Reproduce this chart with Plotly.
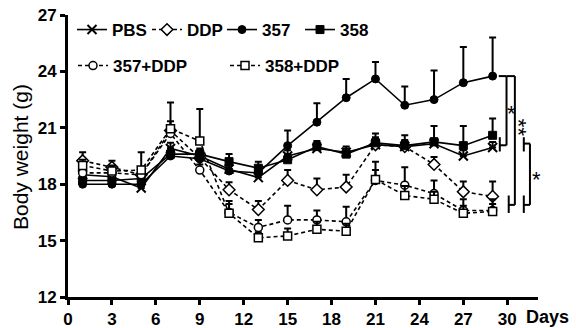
import plotly.graph_objects as go

days = [1, 3, 5, 7, 9, 11, 13, 15, 17, 19, 21, 23, 25, 27, 29]

pbs = [18.5, 18.4, 17.8, 19.9, 19.5, 18.8, 18.35, 19.5, 19.9, 19.7, 20.1, 20.0, 20.15, 19.5, 19.95]
pbs_err = [0.3, 0.3, 0.2, 0.3, 0.3, 0.3, 0.3, 0.3, 0.3, 0.3, 0.3, 0.3, 0.3, 0.3, 0.3]

ddp = [19.25, 18.9, 18.5, 20.85, 19.4, 17.7, 16.65, 18.2, 17.7, 17.85, 20.1, 20.0, 19.05, 17.6, 17.35]
ddp_err = [0.45, 0.35, 0.4, 1.5, 0.4, 0.4, 0.45, 0.55, 0.6, 0.65, 0.4, 0.35, 0.4, 0.55, 0.8]

s357 = [18.0, 18.0, 18.0, 19.5, 19.35, 18.7, 18.6, 20.05, 21.3, 22.6, 23.6, 22.2, 22.5, 23.4, 23.75]
s357_err = [0.2, 0.3, 0.3, 0.4, 0.3, 0.3, 0.3, 0.8, 1.0, 1.0, 0.9, 1.0, 1.55, 1.9, 2.05]

s358 = [18.2, 18.2, 18.3, 19.6, 19.6, 19.2, 18.85, 19.3, 20.0, 19.6, 20.2, 20.05, 20.25, 20.05, 20.6]
s358_err = [0.3, 0.4, 0.3, 0.3, 0.3, 0.4, 0.35, 0.3, 0.3, 0.3, 0.5, 0.55, 0.85, 1.05, 0.9]

s357ddp = [18.6, 18.6, 18.5, 20.7, 18.75, 16.5, 15.7, 16.1, 16.1, 16.0, 18.2, 17.95, 17.5, 16.6, 16.6]
s357ddp_err = [0.3, 0.3, 0.3, 0.4, 0.3, 0.6, 0.4, 0.75, 0.5, 0.8, 1.0, 0.95, 0.7, 0.6, 0.6]

s358ddp = [19.0, 18.7, 18.75, 20.95, 20.3, 16.45, 15.15, 15.25, 15.6, 15.5, 18.25, 17.4, 17.2, 16.45, 16.55]
s358ddp_err = [0.3, 0.3, 0.95, 0.4, 1.7, 0.5, 0.3, 0.4, 0.4, 0.4, 0.5, 0.5, 0.4, 0.4, 0.4]

x_ticks = [0, 3, 6, 9, 12, 15, 18, 21, 24, 27, 30]
y_ticks = [12, 15, 18, 21, 24, 27]

# significance brackets (day, weight)
top_357 = 23.75
mid_ctrl = 20.07
ctrl_lo, ctrl_hi = 19.74, 20.5
low_ddp = 16.9
ddp_lo, ddp_hi = 16.47, 17.4
mid_ctrl2 = 20.16

FONT = "Liberation Sans, Arial, sans-serif"
W, H = 576, 328
ML, MR, MT, MB = 68, 38, 15, 31
PW = W - ML - MR
PH = H - MT - MB


def px_x(px):
    return (px - ML) / PW


def px_y(py):
    return (H - MB - py) / PH


series = [
    ("PBS", pbs, pbs_err, dict(symbol="x-thin", size=9, color="black", line=dict(color="black", width=2)), "solid", "legend", 30),
    ("DDP", ddp, ddp_err, dict(symbol="diamond", size=9, color="white", line=dict(color="black", width=1.5)), "4px,3px", "legend", 30),
    ("357", s357, s357_err, dict(symbol="circle", size=8, color="black", line=dict(color="black", width=1)), "solid", "legend", 33),
    ("358", s358, s358_err, dict(symbol="square", size=8, color="black", line=dict(color="black", width=1)), "solid", "legend", 40),
    ("357+DDP", s357ddp, s357ddp_err, dict(symbol="circle", size=8, color="white", line=dict(color="black", width=1.5)), "4px,3px", "legend2", 107),
    ("358+DDP", s358ddp, s358ddp_err, dict(symbol="square", size=8, color="white", line=dict(color="black", width=1.5)), "4px,3px", "legend2", 100),
]

fig = go.Figure()
for name, vals, err, mk, dash, leg, lw in series:
    fig.add_trace(go.Scatter(
        x=days, y=vals, name=name, mode="lines+markers",
        line=dict(color="black", width=1.6, dash=dash),
        marker=mk,
        error_y=dict(type="data", array=err, arrayminus=[0] * len(err), symmetric=False,
                     color="black", thickness=2, width=3.5),
        legend=leg, legendwidth=lw,
        cliponaxis=False,
    ))

axis_common = dict(
    showline=True, linewidth=3, linecolor="black", mirror=False,
    ticks="outside", ticklen=5, tickwidth=3, tickcolor="black",
    showgrid=False, zeroline=False, automargin=False,
    tickfont=dict(family=FONT, size=17, color="black", weight="bold"),
)
fig.update_xaxes(range=[0, 32.1], tickvals=x_ticks, **axis_common)
fig.update_yaxes(range=[12, 27], tickvals=y_ticks, **axis_common)

legend_common = dict(
    orientation="h", xanchor="left", yanchor="middle",
    font=dict(family=FONT, size=17, color="black", weight="bold"),
    bgcolor="rgba(0,0,0,0)", itemwidth=30, tracegroupgap=0,
)
fig.update_layout(
    width=W, height=H,
    margin=dict(l=ML, r=MR, t=MT, b=MB, autoexpand=False),
    plot_bgcolor="white", paper_bgcolor="white",
    showlegend=True,
    legend=dict(x=px_x(72), y=px_y(30), **legend_common),
    legend2=dict(x=px_x(73), y=px_y(66), **legend_common),
)

# brackets
bracket_lines = [
    # bracket 1: 357 vs controls
    (29.42, top_357, 29.95, top_357),
    (29.95, top_357, 29.95, mid_ctrl),
    (29.95, mid_ctrl, 29.49, mid_ctrl),
    (29.49, ctrl_hi, 29.49, ctrl_lo),
    # bracket 2: 357 vs DDP groups
    (29.95, top_357, 30.52, top_357),
    (30.52, top_357, 30.52, low_ddp),
    (30.52, low_ddp, 30.1, low_ddp),
    (30.1, ddp_hi, 30.1, ddp_lo),
    # bracket 3: controls vs DDP groups
    (31.13, mid_ctrl2, 31.55, mid_ctrl2),
    (31.55, mid_ctrl2, 31.55, low_ddp),
    (31.55, low_ddp, 31.13, low_ddp),
    (31.13, ctrl_hi, 31.13, ctrl_lo),
    (31.13, ddp_hi, 31.13, ddp_lo),
]
for x0, y0, x1, y1 in bracket_lines:
    fig.add_shape(type="line", xref="x", yref="y", x0=x0, y0=y0, x1=x1, y1=y1,
                  line=dict(color="black", width=2))

# significance labels: (day, weight, text, angle)
stars = [(30.3, 21.75, "*", 0), (30.73, 21.0, "**", 90), (32.0, 18.25, "*", 0)]
for sx, sy, st, ang in stars:
    fig.add_annotation(x=sx, y=sy, xref="x", yref="y", text=st, textangle=ang, showarrow=False,
                       font=dict(family=FONT, size=22, color="black"))

fig.add_annotation(x=px_x(20), y=px_y(157), xref="paper", yref="paper",
                   text="Body weight (g)", textangle=-90, showarrow=False,
                   font=dict(family=FONT, size=21, color="black"),
                   xanchor="center", yanchor="middle")
fig.add_annotation(x=px_x(524), y=px_y(317), xref="paper", yref="paper",
                   text="Days", showarrow=False, xanchor="left", yanchor="middle",
                   font=dict(family=FONT, size=18, color="black", weight="bold"))

fig.write_html("out.html", config={"displayModeBar": False},
               post_script="document.body.style.margin='0';")
